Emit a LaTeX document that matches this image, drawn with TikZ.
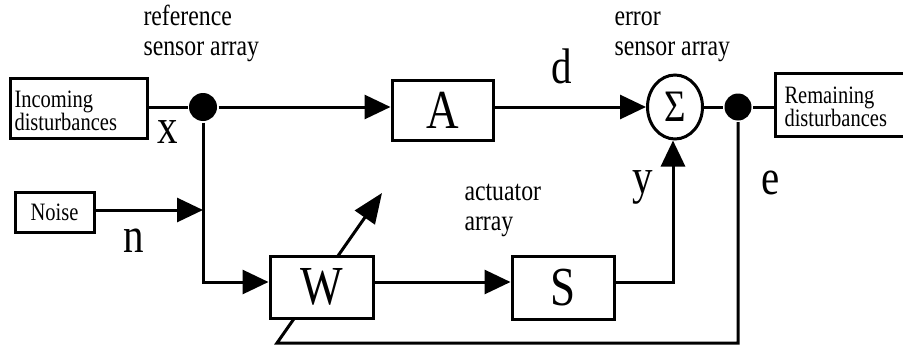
\documentclass[tikz,border=0pt]{standalone}
\usepackage{fontspec}
\setmainfont{Liberation Serif}
\usetikzlibrary{arrows.meta,shapes.geometric,calc}
\pgfdeclarelayer{bg}
\pgfsetlayers{bg,main}
\newcommand{\sx}[1]{\scalebox{0.82}[1]{#1}}
\newcommand{\twol}[2]{\sx{\begin{tabular}[t]{@{}l@{}}#1\\#2\end{tabular}}}
\tikzset{
  box/.style={draw, fill=white, inner sep=0pt, font=\fontsize{55}{55}\selectfont},
  smallbox/.style={draw, fill=white, font=\fontsize{25}{22}\selectfont},
  lbl/.style={font=\fontsize{50}{50}\selectfont, inner sep=0pt, anchor=base},
  note/.style={font=\fontsize{29}{30}\selectfont, inner sep=0pt, anchor=base west},
  conn/.style={line width=3pt, line join=miter},
  arr/.style={conn, -{Triangle[length=26pt,width=24pt]}},
  adjarr/.style={conn, -{Triangle[length=30pt,width=24pt]}},
  dotc/.style={circle, fill=black, inner sep=0pt, minimum size=#1},
}
\begin{document}
\begin{tikzpicture}[x=1pt,y=-1pt,line width=3pt]
\useasboundingbox (0,0) rectangle (903,351);
\clip (0,0) rectangle (903,351);
% blocks
\node[smallbox, minimum width=137pt, minimum height=60pt, inner sep=0pt] (inc) at (78.5,108) {};
\node[smallbox, minimum width=142pt, minimum height=63pt, inner sep=0pt] (rem) at (846,104.5) {};
\node[font=\fontsize{25}{21}\selectfont, inner sep=0pt, anchor=base west] (inct) at (13,107) {\twol{Incoming}{disturbances}};
\node[font=\fontsize{25}{21}\selectfont, inner sep=0pt, anchor=base west] (remt) at (783,103) {\twol{Remaining}{disturbances}};
\node[smallbox, minimum width=79pt, minimum height=40pt, inner sep=0pt] (noise) at (54.5,212) {\sx{Noise}};
\node[box, minimum width=101pt, minimum height=60pt] (A) at (442.5,110) {\sx{A}};
\node[box, minimum width=103pt, minimum height=62pt] (W) at (321.5,287) {\sx{W}};
\node[box, minimum width=102pt, minimum height=63pt] (S) at (563,287.5) {\sx{S}};
\node[ellipse, draw, fill=white, inner sep=0pt, minimum width=55pt, minimum height=64pt, font=\fontsize{45}{45}\selectfont] (sig) at (675,107) {\sx{Σ}};
\node[dotc=28pt] (dot1) at (203,107) {};
\node[dotc=27pt] (dot2) at (738,107) {};
\coordinate (fb1) at (738,343);
\coordinate (fb2) at (277,343);
\coordinate (adj) at (382,193);
% labels
\node[lbl] (lx) at (168,143) {\sx{x}};
\node[lbl] (ln) at (134,252) {\sx{n}};
\node[lbl] (ld) at (562,83) {\sx{d}};
\node[lbl] (ly) at (643,193) {\sx{y}};
\node[lbl] (le) at (771,194) {\sx{e}};
\node[note] (nref) at (142,25) {\twol{reference}{sensor array}};
\node[note] (nerr) at (613,25) {\twol{error}{sensor array}};
\node[note] (nact) at (463,200) {\twol{actuator}{array}};
% connectors
\begin{pgfonlayer}{bg}
\draw[conn] (dot1 -| inc.east) -- (dot1);
\draw[arr] (dot1) -- (dot1 -| A.west);
\draw[arr] (A.east |- sig) -- (sig.west);
\draw[conn] (sig.east) -- (dot2) -- (dot2 -| rem.west);
\draw[arr] (dot1) |- ([yshift=5pt]W.west);
\draw[arr] ([yshift=2pt]noise.east) -- ([yshift=2pt]noise.east -| dot1);
\draw[arr] ([yshift=5pt]W.east) -- ([yshift=5pt]W.east -| S.west);
\draw[arr] ([yshift=5pt]S.east) -| ([xshift=-2pt]sig.south);
\draw[adjarr] (dot2) -- (fb1) -- (fb2) -- (adj);
\end{pgfonlayer}
\end{tikzpicture}
\end{document}
